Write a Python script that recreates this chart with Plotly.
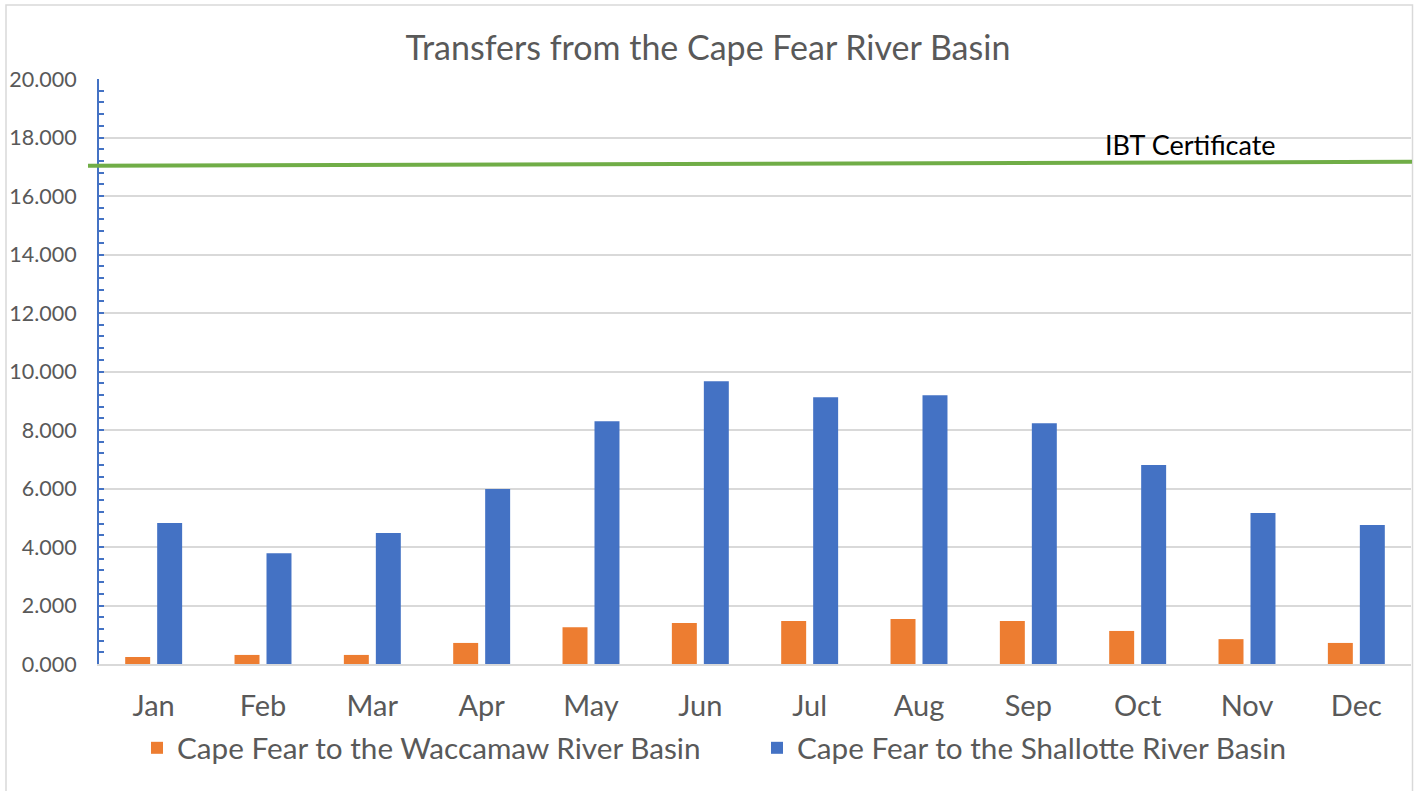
import plotly.graph_objects as go

months = ["Jan", "Feb", "Mar", "Apr", "May", "Jun", "Jul", "Aug", "Sep", "Oct", "Nov", "Dec"]
waccamaw = [0.24, 0.31, 0.31, 0.72, 1.26, 1.40, 1.47, 1.54, 1.47, 1.13, 0.85, 0.72]
shallotte = [4.82, 3.79, 4.48, 5.98, 8.30, 9.67, 9.12, 9.19, 8.23, 6.80, 5.16, 4.75]
ibt_certificate = [17.03, 17.17]  # left end, right end
ibt_label_value = 17.77
y_ticks = [0, 2, 4, 6, 8, 10, 12, 14, 16, 18, 20]

FONT = "Lato"
GREY_TXT = "#595959"
GRID = "#D9D9D9"

W, H = 1416, 791
L, R, T, B = 99, 5, 79, 127
pw = W - L - R
ph = H - T - B

def px_x(px):
    return (px - L) / pw

def px_y(py):
    return (H - B - py) / ph

fig = go.Figure()
fig.add_trace(go.Bar(x=months, y=waccamaw, name="Cape Fear to the Waccamaw River Basin",
                     marker=dict(color="#ED7D31", line=dict(width=0))))
fig.add_trace(go.Bar(x=months, y=shallotte, name="Cape Fear to the Shallotte River Basin",
                     marker=dict(color="#4472C4", line=dict(width=0))))

# chart frame
fig.add_shape(type="rect", xref="paper", yref="paper",
              x0=px_x(6), x1=px_x(1412.5), y0=px_y(830), y1=px_y(5),
              line=dict(color=GRID, width=1.5), fillcolor="rgba(0,0,0,0)", layer="below")

# IBT certificate line
fig.add_shape(type="line", xref="paper", yref="y",
              x0=px_x(88), x1=px_x(1412), y0=ibt_certificate[0], y1=ibt_certificate[1],
              line=dict(color="#70AD47", width=4), layer="above")
fig.add_annotation(text="IBT Certificate", xref="paper", yref="y",
                   x=px_x(1190), y=ibt_label_value, xanchor="center", yanchor="middle",
                   showarrow=False,
                   font=dict(family=FONT, size=27, color="#000000"))

fig.update_layout(
    width=W, height=H,
    margin=dict(l=L, r=R, t=T, b=B, pad=0, autoexpand=False),
    paper_bgcolor="white", plot_bgcolor="white",
    font=dict(family=FONT, color=GREY_TXT),
    title=dict(text="Transfers from the Cape Fear River Basin", x=708 / W,
               xref="container", y=1 - 48 / H, yref="container",
               xanchor="center", yanchor="middle",
               font=dict(family=FONT, size=34, color=GREY_TXT)),
    barmode="group", bargap=0.415, bargroupgap=0.219,
    legend=dict(orientation="h", x=px_x(137), xanchor="left", y=px_y(748), yanchor="middle",
                font=dict(family=FONT, size=29.7, color=GREY_TXT),
                entrywidth=575, entrywidthmode="pixels", bgcolor="rgba(0,0,0,0)"),
    xaxis=dict(showgrid=False, showline=True, linecolor=GRID, linewidth=2,
               ticks="", tickfont=dict(family=FONT, size=29, color=GREY_TXT),
               ticklabelstandoff=15, automargin=False),
    yaxis=dict(range=[0, 20], tickvals=y_ticks, tickformat=".3f",
               showgrid=True, gridcolor=GRID, gridwidth=1.5,
               showline=True, linecolor="#4472C4", linewidth=2,
               ticks="inside", ticklen=5, tickcolor="#4472C4", tickwidth=1.5,
               minor=dict(dtick=0.4, ticks="inside", ticklen=5, tickcolor="#4472C4",
                          tickwidth=1.5, showgrid=False),
               zeroline=False, automargin=False,
               tickfont=dict(family=FONT, size=21.5, color=GREY_TXT),
               ticklabelstandoff=16),
)

fig.write_html("out.html", config={"displayModeBar": False},
               post_script="document.body.style.margin='0px';")
